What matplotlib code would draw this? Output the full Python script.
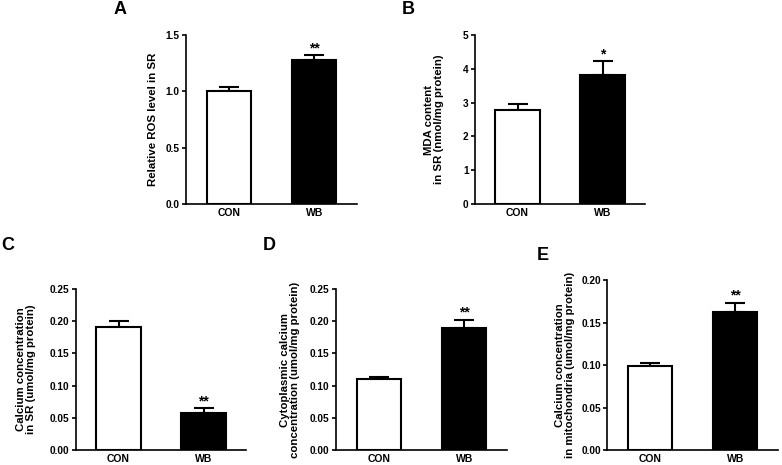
import matplotlib
matplotlib.use("Agg")
import matplotlib.pyplot as plt

plt.rcParams['font.family'] = ['Liberation Sans', 'DejaVu Sans']
plt.rcParams['font.weight'] = 'bold'

groups = ['CON', 'WB']

# panel data: mean, SEM (upper only), significance marks
ros_mean = [1.00, 1.28]
ros_err = [0.04, 0.04]
mda_mean = [2.78, 3.82]
mda_err = [0.19, 0.40]
ca_sr_mean = [0.191, 0.058]
ca_sr_err = [0.009, 0.007]
ca_cyto_mean = [0.110, 0.190]
ca_cyto_err = [0.004, 0.012]
ca_mito_mean = [0.099, 0.162]
ca_mito_err = [0.003, 0.011]

stars_A = ['', '**']
stars_B = ['', '*']
stars_C = ['', '**']
stars_D = ['', '**']
stars_E = ['', '**']

W, H = 782, 465
fig = plt.figure(figsize=(W / 100, H / 100), dpi=100)


def px_axes(left, right, top, bottom):
    return fig.add_axes([left / W, 1 - bottom / H, (right - left) / W, (bottom - top) / H])


def bar_panel(ax, means, errs, stars, ymax, yticks, fmt, ylabel, label_x, axis_left, axis_w):
    x = [0, 1]
    ax.bar(x, means, width=0.52, color=['white', 'black'], edgecolor='black',
           linewidth=1.5, zorder=2)
    ax.errorbar(x, means, yerr=[[0, 0], errs], fmt='none', ecolor='black',
                elinewidth=1.5, capsize=7, capthick=1.5, zorder=1)
    for xi, m, e, s in zip(x, means, errs, stars):
        if s:
            ax.text(xi, m + e, s, ha='center', va='bottom',
                    fontsize=10, fontweight='bold')
    ax.set_xlim(-0.5, 1.5)
    ax.set_ylim(0, ymax)
    ax.set_yticks(yticks)
    ax.set_yticklabels([fmt.format(t) for t in yticks], fontsize=7.3, fontweight='bold')
    ax.set_xticks(x)
    ax.set_xticklabels(groups, fontsize=7.5, fontweight='bold')
    ax.tick_params(axis='x', length=0, pad=3)
    ax.tick_params(axis='y', length=3, width=1.2, pad=1.5)
    for side in ['top', 'right']:
        ax.spines[side].set_visible(False)
    for side in ['left', 'bottom']:
        ax.spines[side].set_linewidth(1.2)
    ax.set_ylabel(ylabel, fontsize=8.2, fontweight='bold', linespacing=1.1,
                  ha='center', va='center')
    ax.yaxis.set_label_coords((label_x - axis_left) / axis_w, 0.5)


axA = px_axes(186, 357, 35, 204)
bar_panel(axA, ros_mean, ros_err, stars_A, 1.5, [0.0, 0.5, 1.0, 1.5], '{:.1f}',
          'Relative ROS level in SR', 153, 186, 171)

axB = px_axes(475, 645, 35, 204)
bar_panel(axB, mda_mean, mda_err, stars_B, 5, [0, 1, 2, 3, 4, 5], '{:.0f}',
          'MDA content\nin SR (nmol/mg protein)', 434, 475, 170)

axC = px_axes(76, 246, 289, 450)
bar_panel(axC, ca_sr_mean, ca_sr_err, stars_C, 0.25, [0.0, 0.05, 0.10, 0.15, 0.20, 0.25],
          '{:.2f}', 'Calcium concentration\nin SR (umol/mg protein)', 26, 76, 170)

axD = px_axes(336, 507, 289, 450)
bar_panel(axD, ca_cyto_mean, ca_cyto_err, stars_D, 0.25, [0.0, 0.05, 0.10, 0.15, 0.20, 0.25],
          '{:.2f}', 'Cytoplasmic calcium\nconcentration (umol/mg protein)', 290, 336, 171)

axE = px_axes(607, 778, 280, 450)
bar_panel(axE, ca_mito_mean, ca_mito_err, stars_E, 0.20, [0.0, 0.05, 0.10, 0.15, 0.20],
          '{:.2f}', 'Calcium concentration\nin mitochondria (umol/mg protein)', 565, 607, 171)

for letter, (lx, ly) in {'A': (120, 10), 'B': (408, 10), 'C': (8, 245),
                         'D': (269, 245), 'E': (543, 256)}.items():
    fig.text(lx / W, 1 - ly / H, letter, ha='center', va='center',
             fontsize=13, fontweight='bold')

fig.savefig('out.png', dpi=100, facecolor='white')
